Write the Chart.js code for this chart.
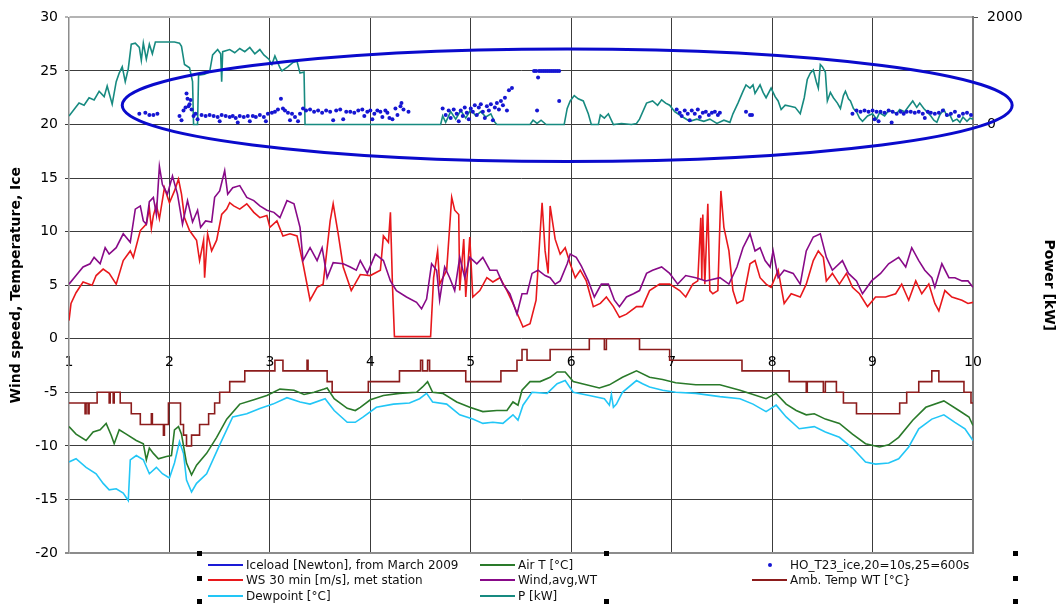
<!DOCTYPE html>
<html>
<head>
<meta charset="utf-8">
<script src="https://cdn.jsdelivr.net/npm/chart.js@4.4.1/dist/chart.umd.min.js"></script>
<style>
  html, body { margin: 0; padding: 0; background: #fff; }
  #wrap { position: relative; width: 1061px; height: 606px; overflow: hidden; }
  #chart { position: absolute; left: 0; top: 0; }
  .leg { position: absolute; font: 12px "DejaVu Sans", Verdana, sans-serif; color: #111; white-space: nowrap; line-height: 14px; }
  .sw { position: absolute; height: 2px; width: 35px; }
  .dot { position: absolute; width: 4px; height: 4px; border-radius: 50%; }
  .hnd { position: absolute; width: 5px; height: 5px; background: #000; }
</style>
</head>
<body>
<div id="wrap">
  <canvas id="chart" width="1061" height="606"></canvas>
</div>
<script>
/* Wind / temperature / power / ice chart */

// --- DATA (x = day index) ---

// WS 30 min [m/s], met station
const wsMet = [
  [1.00,1.7],[1.02,3.3],[1.07,4.3],[1.14,5.3],[1.23,5.0],[1.27,5.9],[1.34,6.5],[1.40,6.1],[1.47,5.1],[1.54,7.3],
  [1.61,8.2],[1.64,7.6],[1.71,10.1],[1.77,10.7],[1.80,12.2],[1.82,10.3],[1.84,11.5],[1.87,12.5],[1.90,11.2],[1.95,14.1],
  [2.00,12.7],[2.05,13.8],[2.09,14.9],[2.12,13.5],[2.15,11.3],[2.20,10.1],[2.27,9.2],[2.30,7.3],[2.34,9.2],[2.35,5.7],
  [2.38,9.8],[2.42,8.2],[2.47,9.2],[2.52,11.6],[2.57,12.1],[2.60,12.7],[2.64,12.4],[2.70,12.1],[2.77,12.6],[2.84,11.8],
  [2.90,11.3],[2.97,11.5],[3.00,10.4],[3.07,11.0],[3.13,9.6],[3.20,9.8],[3.27,9.6],[3.33,7.0],[3.40,3.6],[3.47,4.8],
  [3.53,5.1],[3.60,11.0],[3.63,12.6],[3.68,9.8],[3.73,6.7],[3.81,4.5],[3.90,6.0],[4.00,5.9],[4.10,6.4],[4.13,9.6],
  [4.18,9.0],[4.20,11.8],[4.22,5.1],[4.24,0.2],[4.60,0.2],[4.63,5.7],[4.67,8.2],[4.69,5.1],[4.76,6.4],[4.81,13.2],
  [4.84,12.0],[4.88,11.6],[4.89,4.5],[4.93,9.3],[4.95,3.9],[4.99,9.5],[5.02,3.9],[5.09,4.5],[5.16,5.7],[5.22,5.3],
  [5.29,5.7],[5.36,4.5],[5.42,3.3],[5.47,2.2],[5.52,1.1],[5.59,1.4],[5.65,3.6],[5.69,9.8],[5.71,12.7],[5.74,8.2],
  [5.77,6.1],[5.79,12.4],[5.84,9.3],[5.89,7.9],[5.94,8.5],[5.99,7.0],[6.04,5.7],[6.09,6.4],[6.15,5.4],[6.22,3.0],
  [6.29,3.3],[6.35,3.9],[6.42,3.0],[6.48,2.0],[6.55,2.3],[6.65,3.0],[6.71,3.0],[6.78,4.5],[6.88,5.1],[6.98,5.1],
  [7.08,4.5],[7.14,3.9],[7.21,5.1],[7.26,5.4],[7.29,11.3],[7.30,5.5],[7.31,11.6],[7.33,5.1],[7.36,12.6],[7.38,4.5],
  [7.41,4.2],[7.46,4.5],[7.49,13.8],[7.52,10.4],[7.57,8.2],[7.61,4.5],[7.65,3.3],[7.71,3.6],[7.78,7.0],[7.83,7.3],
  [7.88,5.7],[7.94,5.1],[7.99,4.8],[8.06,6.4],[8.12,3.3],[8.19,4.2],[8.28,3.9],[8.34,5.1],[8.41,7.3],[8.46,8.2],
  [8.51,7.6],[8.54,5.4],[8.60,6.1],[8.67,5.1],[8.74,6.1],[8.80,4.8],[8.87,4.2],[8.95,3.0],[9.03,3.9],[9.13,3.9],
  [9.23,4.2],[9.29,5.1],[9.36,3.6],[9.43,5.4],[9.49,4.2],[9.56,5.1],[9.62,3.3],[9.66,2.6],[9.72,4.5],[9.79,3.9],
  [9.89,3.6],[9.95,3.3],[10.00,3.4]
];

// Wind,avg,WT
const windWT = [
  [1.00,5.1],[1.07,5.9],[1.14,6.7],[1.21,7.0],[1.25,7.6],[1.31,7.0],[1.36,8.5],[1.40,7.9],[1.47,8.5],[1.54,9.8],
  [1.61,9.0],[1.66,12.1],[1.71,12.4],[1.74,11.0],[1.77,10.7],[1.80,12.8],[1.84,13.2],[1.87,11.6],[1.90,16.1],[1.93,14.4],
  [1.98,13.5],[2.03,15.2],[2.08,13.5],[2.13,10.7],[2.18,12.9],[2.23,10.9],[2.28,12.0],[2.31,10.4],[2.36,11.0],[2.42,10.9],
  [2.45,13.2],[2.50,13.8],[2.55,15.7],[2.58,13.5],[2.63,14.1],[2.70,14.3],[2.77,13.2],[2.84,12.9],[2.90,12.4],[2.97,12.0],
  [3.04,11.8],[3.10,11.3],[3.17,12.9],[3.24,12.6],[3.30,10.4],[3.33,7.3],[3.40,8.5],[3.47,7.3],[3.52,8.5],[3.57,5.7],
  [3.63,7.1],[3.73,7.0],[3.80,6.7],[3.86,6.4],[3.90,7.3],[3.97,6.1],[4.05,7.9],[4.13,7.3],[4.20,5.4],[4.26,4.5],
  [4.36,3.9],[4.46,3.4],[4.51,2.8],[4.56,3.7],[4.61,7.0],[4.66,6.4],[4.69,3.6],[4.74,6.7],[4.79,5.7],[4.84,4.5],
  [4.89,7.6],[4.94,5.7],[4.99,7.6],[5.06,7.0],[5.12,7.6],[5.19,6.4],[5.26,6.4],[5.32,5.1],[5.39,4.2],[5.46,2.3],
  [5.51,4.2],[5.56,4.2],[5.61,6.1],[5.67,6.4],[5.74,5.9],[5.79,5.7],[5.84,5.1],[5.89,5.4],[5.96,7.0],[5.99,7.9],
  [6.05,7.6],[6.10,6.8],[6.17,5.4],[6.23,3.9],[6.30,5.1],[6.37,5.1],[6.43,3.6],[6.48,3.0],[6.55,3.9],[6.62,4.2],
  [6.68,4.5],[6.75,6.1],[6.81,6.4],[6.90,6.7],[6.98,6.1],[7.06,5.1],[7.14,5.9],[7.24,5.7],[7.34,5.4],[7.48,5.7],
  [7.57,5.1],[7.65,6.7],[7.71,8.5],[7.78,9.8],[7.83,8.2],[7.88,8.5],[7.93,7.3],[7.98,6.7],[8.01,8.2],[8.06,5.7],
  [8.12,6.4],[8.21,6.1],[8.28,5.1],[8.34,8.2],[8.41,9.5],[8.48,9.8],[8.54,7.6],[8.60,6.4],[8.70,7.3],[8.76,6.1],
  [8.84,5.4],[8.90,4.2],[8.99,5.4],[9.08,6.1],[9.16,7.0],[9.26,7.6],[9.33,6.7],[9.39,8.5],[9.46,7.3],[9.52,6.4],
  [9.59,5.7],[9.62,4.8],[9.69,7.0],[9.76,5.7],[9.82,5.7],[9.89,5.4],[9.95,5.4],[10.00,4.8]
];

// Air T [°C]
const airT = [
  [1.00,-8.2],[1.07,-8.9],[1.17,-9.5],[1.24,-8.7],[1.31,-8.5],[1.37,-7.9],[1.42,-9.0],[1.45,-9.8],[1.50,-8.5],[1.57,-8.9],
  [1.67,-9.5],[1.74,-9.8],[1.77,-11.3],[1.80,-10.2],[1.84,-10.7],[1.89,-11.2],[1.97,-11.0],[2.02,-10.9],[2.05,-8.5],[2.09,-8.2],
  [2.12,-8.9],[2.17,-11.6],[2.22,-12.7],[2.27,-11.8],[2.37,-10.7],[2.47,-9.2],[2.57,-7.5],[2.70,-6.1],[2.84,-5.7],[2.97,-5.3],
  [3.10,-4.7],[3.24,-4.8],[3.34,-5.2],[3.44,-5.0],[3.54,-4.7],[3.57,-4.6],[3.64,-5.6],[3.77,-6.5],[3.85,-6.7],[3.90,-6.4],
  [4.00,-5.7],[4.13,-5.3],[4.29,-5.1],[4.46,-5.0],[4.52,-4.5],[4.57,-4.0],[4.62,-5.0],[4.72,-5.1],[4.86,-5.9],[4.99,-6.4],
  [5.12,-6.8],[5.26,-6.7],[5.36,-6.7],[5.42,-5.9],[5.47,-6.2],[5.51,-4.8],[5.59,-4.0],[5.69,-4.0],[5.79,-3.6],[5.86,-3.1],
  [5.94,-3.1],[6.02,-4.0],[6.15,-4.3],[6.28,-4.6],[6.38,-4.3],[6.51,-3.6],[6.65,-3.0],[6.78,-3.6],[6.91,-3.8],[7.04,-4.1],
  [7.24,-4.3],[7.48,-4.3],[7.68,-4.8],[7.78,-5.1],[7.94,-5.6],[8.04,-5.1],[8.14,-6.1],[8.24,-6.7],[8.34,-7.1],[8.42,-7.0],
  [8.53,-7.5],[8.67,-7.9],[8.80,-8.9],[8.93,-9.8],[9.07,-10.1],[9.16,-9.9],[9.26,-9.2],[9.40,-7.6],[9.53,-6.4],[9.71,-5.8],
  [9.86,-6.7],[9.96,-7.3],[10.00,-8.1]
];

// Dewpoint [°C]
const dewPoint = [
  [1.00,-11.5],[1.07,-11.2],[1.17,-12.0],[1.27,-12.6],[1.34,-13.5],[1.40,-14.1],[1.47,-14.0],[1.54,-14.4],[1.59,-15.1],[1.61,-11.3],
  [1.67,-10.9],[1.74,-11.3],[1.80,-12.6],[1.87,-12.0],[1.93,-12.6],[2.00,-13.0],[2.05,-11.6],[2.10,-9.6],[2.14,-10.7],[2.17,-13.2],
  [2.22,-14.3],[2.27,-13.5],[2.37,-12.6],[2.50,-9.9],[2.63,-7.3],[2.77,-7.0],[2.90,-6.5],[3.03,-6.1],[3.17,-5.5],[3.30,-5.9],
  [3.40,-6.1],[3.55,-5.6],[3.64,-6.7],[3.77,-7.8],[3.85,-7.8],[3.93,-7.3],[4.06,-6.4],[4.23,-6.1],[4.39,-6.0],[4.49,-5.6],
  [4.56,-5.1],[4.62,-5.9],[4.76,-6.1],[4.89,-7.1],[5.02,-7.5],[5.12,-7.9],[5.22,-7.8],[5.32,-7.9],[5.42,-7.1],[5.47,-7.6],
  [5.52,-6.2],[5.61,-5.0],[5.76,-5.1],[5.86,-4.2],[5.94,-3.9],[6.02,-5.0],[6.18,-5.3],[6.33,-5.6],[6.38,-6.2],[6.40,-5.2],
  [6.42,-6.4],[6.45,-6.1],[6.51,-5.0],[6.65,-3.9],[6.71,-4.2],[6.78,-4.5],[6.91,-4.8],[7.04,-5.0],[7.24,-5.1],[7.48,-5.4],
  [7.68,-5.6],[7.81,-6.1],[7.94,-6.8],[8.04,-6.2],[8.14,-7.3],[8.27,-8.4],[8.42,-8.2],[8.53,-8.7],[8.67,-9.2],[8.80,-10.2],
  [8.93,-11.5],[9.03,-11.7],[9.16,-11.6],[9.26,-11.2],[9.36,-10.1],[9.46,-8.4],[9.59,-7.5],[9.71,-7.1],[9.82,-7.8],[9.92,-8.4],
  [10.00,-9.5]
];

// Amb. Temp WT: step starts (value holds until next x)
const ambTemp = [
  [1.00,-6],[1.16,-7],[1.17,-6],[1.19,-7],[1.20,-6],[1.28,-5],[1.40,-6],[1.41,-5],[1.44,-6],[1.45,-5],
  [1.51,-6],[1.62,-7],[1.71,-8],[1.82,-7],[1.83,-8],[1.94,-9],[1.95,-8],[1.99,-6],[2.11,-8],[2.14,-9],
  [2.17,-10],[2.22,-9],[2.30,-8],[2.39,-7],[2.45,-6],[2.50,-5],[2.60,-4],[2.75,-3],[3.05,-2],[3.13,-3],
  [3.37,-2],[3.38,-3],[3.57,-4],[3.62,-5],[3.98,-4],[4.29,-3],[4.50,-2],[4.52,-3],[4.57,-2],[4.59,-3],
  [4.95,-4],[5.30,-3],[5.46,-2],[5.51,-1],[5.56,-2],[5.79,-1],[6.18,0],[6.33,-1],[6.35,0],[6.68,-1],
  [6.98,-2],[7.70,-3],[8.17,-4],[8.34,-5],[8.35,-4],[8.51,-5],[8.53,-4],[8.64,-5],[8.71,-6],[8.84,-7],
  [9.27,-6],[9.34,-5],[9.46,-4],[9.59,-3],[9.66,-4],[9.91,-5],[9.98,-6],[10.00,-6]
];

// P [kW]
const powerKW = [
  [1.00,160],[1.05,280],[1.10,400],[1.15,360],[1.20,500],[1.25,460],[1.30,620],[1.35,520],[1.38,720],[1.43,380],
  [1.47,800],[1.50,960],[1.53,1080],[1.56,800],[1.59,1040],[1.62,1500],[1.66,1520],[1.70,1440],[1.72,1200],[1.74,1520],
  [1.77,1220],[1.80,1500],[1.83,1320],[1.86,1540],[1.95,1540],[2.05,1540],[2.10,1520],[2.12,1460],[2.15,1120],[2.20,1060],
  [2.23,800],[2.24,0],[2.28,0],[2.29,920],[2.35,940],[2.40,980],[2.43,1300],[2.48,1400],[2.51,1320],[2.52,800],
  [2.53,1360],[2.60,1400],[2.65,1340],[2.70,1420],[2.75,1360],[2.80,1440],[2.85,1320],[2.90,1400],[2.94,1300],[2.99,1220],
  [3.02,1120],[3.05,1280],[3.10,1060],[3.12,1000],[3.18,1080],[3.23,1160],[3.27,1180],[3.30,960],[3.34,980],[3.35,0],
  [4.70,0],[4.72,160],[4.75,40],[4.80,240],[4.85,100],[4.90,260],[4.95,120],[5.00,280],[5.05,160],[5.10,240],
  [5.15,140],[5.20,200],[5.24,40],[5.26,0],[5.59,0],[5.62,80],[5.66,20],[5.70,80],[5.75,0],[5.93,0],
  [5.96,300],[5.99,440],[6.03,540],[6.07,480],[6.12,440],[6.17,200],[6.20,0],[6.27,0],[6.29,180],[6.33,120],
  [6.37,200],[6.42,0],[6.50,20],[6.60,0],[6.65,20],[6.68,100],[6.75,400],[6.81,440],[6.86,360],[6.90,460],
  [6.94,400],[6.98,360],[7.03,240],[7.11,140],[7.18,60],[7.25,100],[7.32,60],[7.38,100],[7.45,20],[7.52,80],
  [7.58,40],[7.61,200],[7.66,400],[7.71,620],[7.74,740],[7.78,680],[7.81,740],[7.83,580],[7.88,740],[7.91,600],
  [7.94,500],[7.99,680],[8.03,520],[8.06,440],[8.09,280],[8.13,360],[8.18,340],[8.23,320],[8.28,200],[8.32,500],
  [8.35,840],[8.38,960],[8.41,1020],[8.44,800],[8.46,680],[8.48,1120],[8.50,1080],[8.53,980],[8.55,440],[8.58,600],
  [8.61,500],[8.65,400],[8.68,300],[8.71,540],[8.73,620],[8.76,480],[8.78,440],[8.81,300],[8.84,240],[8.87,120],
  [8.90,60],[8.95,160],[9.00,200],[9.04,100],[9.07,220],[9.12,160],[9.16,260],[9.20,240],[9.24,200],[9.27,280],
  [9.32,240],[9.36,340],[9.40,440],[9.44,320],[9.47,400],[9.51,300],[9.54,240],[9.58,160],[9.61,80],[9.64,40],
  [9.67,180],[9.71,280],[9.74,160],[9.77,180],[9.80,60],[9.84,100],[9.87,40],[9.90,140],[9.94,60],[9.97,120],
  [10.00,100]
];

// HO_T23_ice (20 = 10s, 25 = 600s)
const iceHO = [
  [1.70,21.0],[1.76,21.1],[1.80,20.9],[1.84,20.9],[1.88,21.0],[2.10,20.8],[2.12,20.4],[2.14,21.3],[2.16,21.6],[2.17,22.9],
  [2.18,22.4],[2.19,21.7],[2.20,21.9],[2.21,22.3],[2.22,21.4],[2.24,20.8],[2.26,21.0],[2.28,20.5],[2.32,20.9],[2.36,20.8],
  [2.40,20.9],[2.44,20.8],[2.48,20.7],[2.50,20.3],[2.52,20.9],[2.56,20.8],[2.60,20.7],[2.63,20.8],[2.66,20.6],[2.68,20.2],
  [2.70,20.8],[2.74,20.7],[2.78,20.8],[2.80,20.3],[2.83,20.8],[2.86,20.7],[2.90,20.9],[2.94,20.7],[2.96,20.3],[2.98,21.0],
  [3.02,21.1],[3.05,21.2],[3.08,21.4],[3.11,22.4],[3.13,21.5],[3.15,21.3],[3.18,21.1],[3.20,20.4],[3.22,21.0],[3.25,20.7],
  [3.28,20.3],[3.30,21.0],[3.33,21.5],[3.36,21.3],[3.40,21.4],[3.44,21.2],[3.48,21.3],[3.52,21.1],[3.56,21.3],[3.60,21.2],
  [3.63,20.4],[3.66,21.3],[3.70,21.4],[3.73,20.5],[3.76,21.2],[3.80,21.2],[3.84,21.1],[3.88,21.3],[3.92,21.4],[3.94,20.8],
  [3.97,21.2],[4.00,21.3],[4.02,20.5],[4.04,21.0],[4.07,21.3],[4.10,21.2],[4.12,20.7],[4.15,21.3],[4.17,21.1],[4.19,20.6],
  [4.22,20.5],[4.25,21.5],[4.27,20.9],[4.30,21.7],[4.31,22.0],[4.33,21.4],[4.38,21.2],[4.72,21.5],[4.75,20.9],[4.78,21.3],
  [4.80,20.6],[4.83,21.4],[4.86,21.0],[4.88,20.3],[4.90,21.3],[4.92,20.8],[4.94,21.6],[4.96,21.1],[4.98,20.5],[5.00,21.5],
  [5.02,21.2],[5.04,21.8],[5.06,20.9],[5.08,21.6],[5.10,21.9],[5.12,21.2],[5.14,20.6],[5.16,21.7],[5.18,21.3],[5.20,21.9],
  [5.22,20.4],[5.24,21.6],[5.26,22.0],[5.28,21.4],[5.30,22.2],[5.32,21.8],[5.34,22.5],[5.36,21.3],[5.38,23.2],[5.41,23.4],
  [5.63,25.0],[5.65,25.0],[5.66,21.3],[5.67,24.4],[5.68,25.0],[5.70,25.0],[5.72,25.0],[5.74,25.0],[5.76,25.0],[5.78,25.0],
  [5.80,25.0],[5.82,25.0],[5.84,25.0],[5.86,25.0],[5.88,25.0],[5.88,22.2],[7.05,21.4],[7.08,21.1],[7.10,20.8],[7.13,21.3],
  [7.16,21.0],[7.18,20.4],[7.20,21.3],[7.23,21.0],[7.26,21.4],[7.28,20.7],[7.31,21.1],[7.34,21.2],[7.37,20.9],[7.40,21.1],
  [7.43,21.2],[7.46,20.9],[7.48,21.1],[7.74,21.2],[7.78,20.9],[7.80,20.9],[8.80,21.0],[8.84,21.3],[8.88,21.2],[8.92,21.3],
  [8.96,21.2],[9.00,21.3],[9.02,20.5],[9.04,21.2],[9.06,20.3],[9.08,21.2],[9.12,21.1],[9.16,21.3],[9.19,20.2],[9.20,21.2],
  [9.24,21.0],[9.28,21.2],[9.31,21.0],[9.34,21.2],[9.38,21.2],[9.42,21.1],[9.46,21.2],[9.50,21.0],[9.52,20.6],[9.55,21.2],
  [9.58,21.1],[9.62,21.0],[9.66,21.1],[9.70,21.3],[9.74,20.9],[9.78,21.0],[9.82,21.2],[9.86,20.8],[9.90,21.0],[9.94,21.1],
  [9.98,20.9]
];

// Hand-drawn ellipse round the power area (data units: x, left axis)
const ELLIPSE = { cx: 5.96, cy: 21.8, rx: 4.43, ry: 5.25 };

// --- CORES ---
const COLORS = {
  ice: '#1616d2',
  iceLoad: '#1a1ad6',
  ws: '#e8181c',
  wind: '#880a88',
  air: '#2a7a2a',
  dew: '#22c6f6',
  amb: '#8c1c1c',
  power: '#178a80'
};

// --- LEGENDA (HTML) ---
const LEG_COL_X = [208, 480, 752];
const LEG_ROW_Y = [565, 580, 596];
const LEGEND = [
  { txt: 'Iceload [Newton], from March 2009', color: COLORS.iceLoad, col: 0, row: 0 },
  { txt: 'WS 30 min [m/s], met station', color: COLORS.ws, col: 0, row: 1 },
  { txt: 'Dewpoint [°C]', color: COLORS.dew, col: 0, row: 2 },
  { txt: 'Air T [°C]', color: COLORS.air, col: 1, row: 0 },
  { txt: 'Wind,avg,WT', color: COLORS.wind, col: 1, row: 1 },
  { txt: 'P [kW]', color: COLORS.power, col: 1, row: 2 },
  { txt: 'HO_T23_ice,20=10s,25=600s', color: COLORS.ice, col: 2, row: 0, dot: true },
  { txt: 'Amb. Temp WT [°C}', color: COLORS.amb, col: 2, row: 1 }
];
// selection handles seen round the legend box
const HANDLES = [[199,553],[606,553],[1015,553],[199,578],[1015,578],[199,601],[606,601],[1015,601]];

function buildLegend() {
  const wrap = document.getElementById('wrap');
  LEGEND.forEach(it => {
    const x = LEG_COL_X[it.col], y = LEG_ROW_Y[it.row];
    const sw = document.createElement('div');
    if (it.dot) {
      sw.className = 'dot';
      sw.style.left = (x + 16) + 'px';
      sw.style.top = (y - 2) + 'px';
    } else {
      sw.className = 'sw';
      sw.style.left = x + 'px';
      sw.style.top = (y - 1) + 'px';
    }
    sw.style.background = it.color;
    wrap.appendChild(sw);

    const t = document.createElement('div');
    t.className = 'leg';
    t.textContent = it.txt;
    t.style.left = (x + 38) + 'px';
    t.style.top = (y - 7) + 'px';
    wrap.appendChild(t);
  });
  HANDLES.forEach(([hx, hy]) => {
    const h = document.createElement('div');
    h.className = 'hnd';
    h.style.left = (hx - 2) + 'px';
    h.style.top = (hy - 2) + 'px';
    wrap.appendChild(h);
  });
}

// --- GRÁFICO ---
const pts = arr => arr.map(([x, y]) => ({ x, y }));

function lineSet(label, data, color, order, extra) {
  return Object.assign({
    label, data: pts(data), borderColor: color, backgroundColor: color,
    borderWidth: 1.6, pointRadius: 0, tension: 0, fill: false, order, yAxisID: 'y'
  }, extra || {});
}

const ellipsePlugin = {
  id: 'ellipse',
  afterDraw(chart) {
    const { ctx, scales: { x, y } } = chart;
    const cx = x.getPixelForValue(ELLIPSE.cx);
    const cy = y.getPixelForValue(ELLIPSE.cy);
    const rx = x.getPixelForValue(ELLIPSE.cx + ELLIPSE.rx) - cx;
    const ry = cy - y.getPixelForValue(ELLIPSE.cy + ELLIPSE.ry);
    ctx.save();
    ctx.beginPath();
    ctx.ellipse(cx, cy, rx, ry, 0, 0, Math.PI * 2);
    ctx.lineWidth = 3;
    ctx.strokeStyle = '#0a0acc';
    ctx.stroke();
    ctx.restore();
  }
};

Chart.defaults.font.family = '"DejaVu Sans", Verdana, sans-serif';
Chart.defaults.color = '#000';

function gridColor(c) {
  const v = c.tick ? c.tick.value : null;
  if (v === 30) return '#b4b4b4';
  if (v === -20) return '#8c8c8c';
  return '#3c3c3c';
}

new Chart(document.getElementById('chart'), {
  type: 'line',
  data: {
    datasets: [
      { label: 'HO_T23_ice,20=10s,25=600s', type: 'scatter', data: pts(iceHO), yAxisID: 'y',
        pointRadius: 2, pointBorderWidth: 0, pointBackgroundColor: COLORS.ice, showLine: false, order: 0 },
      lineSet('P [kW]', powerKW, COLORS.power, 1, { yAxisID: 'y1' }),
      lineSet('Wind,avg,WT', windWT, COLORS.wind, 2),
      lineSet('WS 30 min [m/s], met station', wsMet, COLORS.ws, 3),
      lineSet('Air T [°C]', airT, COLORS.air, 4),
      lineSet('Dewpoint [°C]', dewPoint, COLORS.dew, 5),
      lineSet('Amb. Temp WT [°C}', ambTemp, COLORS.amb, 6, { stepped: true }),
      lineSet('Iceload [Newton], from March 2009', [], COLORS.iceLoad, 7)
    ]
  },
  options: {
    responsive: false,
    animation: false,
    events: [],
    layout: { padding: { top: 16, bottom: 53, left: 0, right: 0 } },
    plugins: { legend: { display: false }, tooltip: { enabled: false } },
    scales: {
      x: {
        type: 'linear', min: 1, max: 10,
        position: { y: 0 },
        ticks: { stepSize: 1, padding: 15, font: { size: 14 }, color: '#000', maxRotation: 0 },
        grid: {
          drawTicks: false, lineWidth: 1,
          color: c => (c.tick && (c.tick.value === 1 || c.tick.value === 10)) ? 'rgba(0,0,0,0)' : '#3c3c3c'
        },
        border: { display: false }
      },
      y: {
        position: 'left', min: -20, max: 30,
        ticks: { stepSize: 5, padding: 7, font: { size: 14 }, color: '#000' },
        grid: { color: gridColor, lineWidth: c => (c.tick && (c.tick.value === 30 || c.tick.value === -20)) ? 2 : 1, tickLength: 4 },
        border: { color: '#8c8c8c', width: 1.5 },
        title: { display: true, text: 'Wind speed, Temperature, Ice', font: { size: 14, weight: 'bold' }, padding: { top: 8, bottom: 0 } },
        afterFit: s => { s.width = 69; }
      },
      y1: {
        position: 'right', min: -8000, max: 2000,
        afterBuildTicks: s => { s.ticks = [{ value: 0 }, { value: 2000 }]; },
        ticks: { padding: 9, font: { size: 14 }, color: '#000', callback: v => String(v) },
        grid: { drawOnChartArea: false, color: '#555', tickLength: 5 },
        border: { color: '#7c7c7c', width: 2 },
        title: { display: true, text: 'Power [kW]', font: { size: 14, weight: 'bold' }, padding: { top: 4, bottom: 0 } },
        afterFit: s => { s.width = 88; }
      }
    }
  },
  plugins: [ellipsePlugin]
});

buildLegend();
</script>
</body>
</html>
